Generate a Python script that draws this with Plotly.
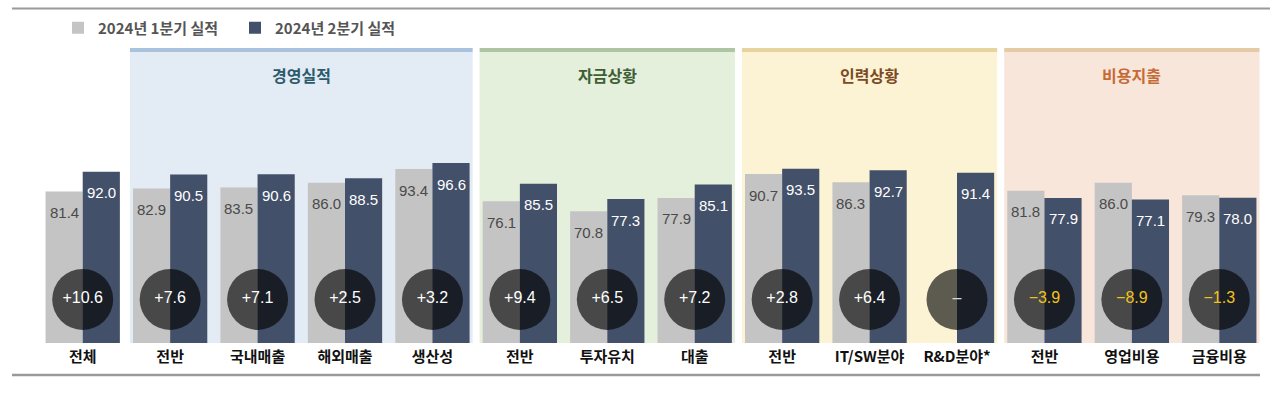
import plotly.graph_objects as go

# ---------------- data ----------------
categories = ["전체", "전반", "국내매출", "해외매출", "생산성",
              "전반", "투자유치", "대출",
              "전반", "IT/SW분야", "R&D분야*",
              "전반", "영업비용", "금융비용"]
q1_values = [81.4, 82.9, 83.5, 86.0, 93.4,
             76.1, 70.8, 77.9,
             90.7, 86.3, None,
             81.8, 86.0, 79.3]
q2_values = [92.0, 90.5, 90.6, 88.5, 96.6,
             85.5, 77.3, 85.1,
             93.5, 92.7, 91.4,
             77.9, 77.1, 78.0]
series_names = ["2024년 1분기 실적", "2024년 2분기 실적"]
group_names = ["경영실적", "자금상황", "인력상황", "비용지출"]
group_members = [[1, 2, 3, 4], [5, 6, 7], [8, 9, 10], [11, 12, 13]]

# ---------------- styles ----------------
W, H = 1280, 394
ML, MR, MT, MB = 39, 17, 45, 51
PW, PH = W - ML - MR, H - MT - MB
YMAX = 160
BW = 0.425
GRAY, NAVY = "#c4c4c4", "#435069"
group_fill = ["#e3ebf5", "#e4efdc", "#fcf3d5", "#f8e6db"]
group_strip = ["#a9c3df", "#aec4a2", "#e6d49e", "#e5cba5"]
group_title = ["#2d5a6b", "#3e5e34", "#7b4a24", "#c66a36"]
NUMFONT = "Liberation Sans, Arial, sans-serif"
KRFONT = "Noto Sans CJK KR, sans-serif"


def px_x(p):
    return (p - ML) / PW


def px_y(p):
    return (H - MB - p) / PH


x_idx = list(range(len(categories)))

fig = go.Figure()
fig.add_trace(go.Bar(x=x_idx, y=q1_values, name=series_names[0], marker_color=GRAY,
                     offset=-BW, width=BW, marker_line_width=0, hoverinfo="y"))
fig.add_trace(go.Bar(x=x_idx, y=q2_values, name=series_names[1], marker_color=NAVY,
                     offset=0, width=BW, marker_line_width=0, hoverinfo="y"))

# difference circles
diff_text, diff_color = [], []
for a, b in zip(q1_values, q2_values):
    if a is None or b is None:
        diff_text.append("–")
        diff_color.append("#d8d8d8")
    else:
        d = round(b - a, 1)
        if d >= 0:
            diff_text.append(f"+{d:.1f}")
            diff_color.append("#ffffff")
        else:
            diff_text.append(f"−{abs(d):.1f}")
            diff_color.append("#f2c21b")
fig.add_trace(go.Scatter(x=x_idx, y=[23.4] * len(x_idx), mode="markers+text",
                         marker=dict(size=61, color="rgba(0,0,0,0.63)", line_width=0),
                         text=diff_text, textposition="middle center",
                         textfont=dict(family=NUMFONT, size=16, color=diff_color),
                         showlegend=False, hoverinfo="skip"))

annotations = []
# value labels
for i, (a, b) in enumerate(zip(q1_values, q2_values)):
    if a is not None:
        annotations.append(dict(x=i - BW / 2, y=a, xref="x", yref="y", text=f"{a:.1f}",
                                showarrow=False, yshift=-21, yanchor="middle",
                                font=dict(family=NUMFONT, size=15, color="#4a4a4a")))
    if b is not None:
        annotations.append(dict(x=i + BW / 2, y=b, xref="x", yref="y", text=f"{b:.1f}",
                                showarrow=False, yshift=-21, yanchor="middle",
                                font=dict(family=NUMFONT, size=15, color="#ffffff")))

shapes = []
PAD = 0.035
for g, (name, members) in enumerate(zip(group_names, group_members)):
    x0 = members[0] - BW - PAD
    x1 = members[-1] + BW + PAD
    shapes.append(dict(type="rect", xref="x", yref="paper", x0=x0, x1=x1,
                       y0=0, y1=px_y(52), fillcolor=group_fill[g], line_width=0, layer="below"))
    shapes.append(dict(type="rect", xref="x", yref="paper", x0=x0, x1=x1,
                       y0=px_y(52), y1=px_y(48), fillcolor=group_strip[g], line_width=0, layer="below"))
    annotations.append(dict(x=(x0 + x1) / 2, y=px_y(75), xref="x", yref="paper", text=name,
                            showarrow=False, yanchor="middle",
                            font=dict(family=KRFONT, size=16, color=group_title[g], weight="bold")))

# rules top and bottom
shapes.append(dict(type="line", xref="paper", yref="paper", x0=px_x(12), x1=px_x(1270),
                   y0=px_y(8.5), y1=px_y(8.5), line=dict(color="#9a9a9a", width=2)))
shapes.append(dict(type="line", xref="paper", yref="paper", x0=px_x(12), x1=px_x(1260),
                   y0=px_y(375), y1=px_y(375), line=dict(color="#9a9a9a", width=2.5)))

fig.update_layout(
    width=W, height=H,
    margin=dict(l=ML, r=MR, t=MT, b=MB, pad=0),
    paper_bgcolor="white", plot_bgcolor="rgba(0,0,0,0)",
    barmode="overlay",
    showlegend=True,
    legend=dict(orientation="h", x=px_x(58), xanchor="left", y=px_y(28), yanchor="middle",
                font=dict(family=KRFONT, size=15, color="#555555", weight="bold"),
                bgcolor="rgba(0,0,0,0)", borderwidth=0,
                entrywidth=132, entrywidthmode="pixels", traceorder="normal"),
    xaxis=dict(range=[-0.5, len(categories) - 0.5], tickmode="array", tickvals=x_idx,
               ticktext=categories, showgrid=False, zeroline=False, showline=False, ticks="",
               ticklabelstandoff=3,
               tickfont=dict(family=KRFONT, size=15, color="#111111", weight="bold")),
    yaxis=dict(range=[0, YMAX], visible=False, showgrid=False, zeroline=False),
    shapes=shapes, annotations=annotations,
)

fig.write_html("out.html", config={"displayModeBar": False},
               post_script="document.body.style.margin='0';")
